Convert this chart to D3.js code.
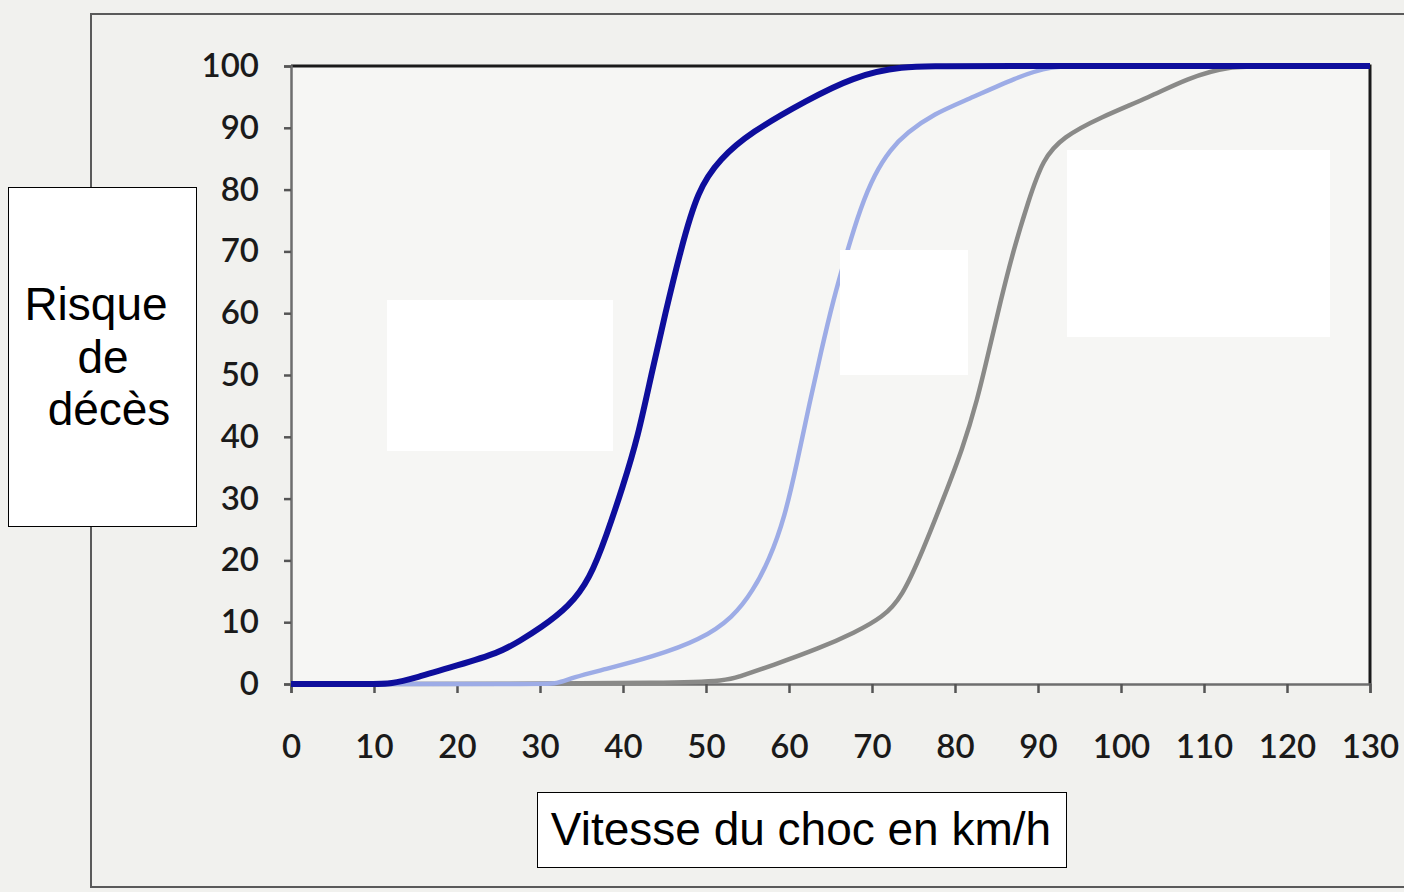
<!DOCTYPE html>
<html>
<head>
<meta charset="utf-8">
<script src="https://cdn.jsdelivr.net/npm/d3@7"></script>
<style>
  body { margin: 0; background: #f1f1ee; }
  svg { display: block; }
</style>
</head>
<body>
<div id="chart"></div>
<script>
  // speed (km/h) vs risk of death (%)
  var xTicks = [0, 10, 20, 30, 40, 50, 60, 70, 80, 90, 100, 110, 120, 130],
    yTicks = [0, 10, 20, 30, 40, 50, 60, 70, 80, 90, 100];

  var darkSpeed = [0, 10, 12, 15, 20, 25, 27.6, 30, 33.5, 36, 38, 40, 41.8, 43.4, 45.1, 46.9, 49, 51.7, 55.3, 62.2, 67.7, 73.4, 80, 130],
    darkRisk = [0, 0, 0, 1, 3, 5, 7, 9, 12.5, 17, 24, 32, 40, 50, 60, 70, 80, 85, 89.2, 94.5, 98.2, 100, 100, 100];

  var lightSpeed = [0, 30, 32, 34, 37.6, 43.6, 49.3, 53.3, 55.7, 57.6, 59.5, 61, 62.4, 63.9, 65.3, 67, 68.6, 70.3, 72.2, 74.2, 77.5, 81.4, 87.5, 91.4, 96, 130],
    lightRisk = [0, 0, 0, 1.1, 2.3, 4.4, 7.1, 10.8, 15.2, 20, 27, 36, 45, 54, 62, 70, 77, 82.5, 86.5, 89.2, 92.3, 94.5, 98.2, 100, 100, 100];

  var greySpeed = [0, 51.7, 53.7, 58, 63.7, 67.9, 71.3, 73.6, 76.1, 78.6, 80.9, 82.7, 84.1, 85.5, 87, 88.8, 90.6, 93, 97.5, 103.5, 108, 113, 118, 130],
    greyRisk = [0, 0, 1.1, 3, 5.8, 8.3, 10.8, 14, 21.5, 30, 38, 46, 54, 62, 70, 78, 85, 88.5, 91.7, 95, 98, 100, 100, 100];

  var width = 1404,
    height = 892;

  var svg = d3.select('#chart')
    .append('svg')
    .attr('width', width)
    .attr('height', height);

  // scanned page frame
  svg.append('rect')
    .attr('x', 91)
    .attr('y', 14)
    .attr('width', 1340)
    .attr('height', 873)
    .attr('fill', 'none')
    .attr('stroke', '#5a5a5a')
    .attr('stroke-width', 2);

  var x = d3.scaleLinear().domain([0, 130]).range([291, 1370]);
  var y = d3.scaleLinear().domain([0, 100]).range([684, 66]);

  // plot background
  svg.append('rect')
    .attr('x', x(0))
    .attr('y', y(100))
    .attr('width', x(130) - x(0))
    .attr('height', y(0) - y(100))
    .attr('fill', '#f6f6f4');

  // top and right border of the plot
  svg.append('path')
    .attr('d', 'M' + x(0) + ',' + y(100) + 'H' + x(130) + 'V' + y(0))
    .attr('fill', 'none')
    .attr('stroke', '#1a1a1a')
    .attr('stroke-width', 3);

  var yAxis = svg.append('g')
    .attr('transform', 'translate(' + x(0) + ',0)')
    .call(d3.axisLeft(y).tickValues(yTicks).tickSize(7).tickPadding(25));

  var xAxis = svg.append('g')
    .attr('transform', 'translate(0,' + y(0) + ')')
    .call(d3.axisBottom(x).tickValues(xTicks).tickSize(9).tickPadding(42));

  [yAxis, xAxis].forEach(function(g){
    g.select('.domain').attr('stroke', '#6e6e6e').attr('stroke-width', 2.5);
    g.selectAll('.tick line').attr('stroke', '#555').attr('stroke-width', 2.5);
    g.selectAll('.tick text')
      .attr('fill', '#1a1a1a')
      .style('font-family', 'Lato, "Open Sans", sans-serif')
      .style('font-weight', '600')
      .style('font-size', '33px');
  });

  var line = d3.line()
    .x(function(d){ return x(d[0]); })
    .y(function(d){ return y(d[1]); })
    .curve(d3.curveBasis);

  var series = [
    { s: greySpeed, r: greyRisk, color: '#8a8a88', w: 4.5 },
    { s: lightSpeed, r: lightRisk, color: '#9dace6', w: 4.5 },
    { s: darkSpeed, r: darkRisk, color: '#0e0e9c', w: 6 }
  ];

  series.forEach(function(d){
    svg.append('path')
      .datum(d3.zip(d.s, d.r))
      .attr('fill', 'none')
      .attr('stroke', d.color)
      .attr('stroke-width', d.w)
      .attr('stroke-linejoin', 'round')
      .attr('d', line);
  });

  // blank masks pasted over the original labels
  var masks = [[387, 300, 226, 151], [840, 250, 128, 125], [1067, 150, 263, 187]];
  masks.forEach(function(m){
    svg.append('rect')
      .attr('x', m[0]).attr('y', m[1])
      .attr('width', m[2]).attr('height', m[3])
      .attr('fill', '#ffffff');
  });

  // axis title boxes
  svg.append('rect')
    .attr('x', 8.5).attr('y', 187.5)
    .attr('width', 188).attr('height', 339)
    .attr('fill', '#fff').attr('stroke', '#000').attr('stroke-width', 1);

  var yTitle = [['Risque', 96, 320], ['de', 103, 373], ['décès', 109, 425]];
  yTitle.forEach(function(t){
    svg.append('text')
      .attr('x', t[1]).attr('y', t[2])
      .attr('text-anchor', 'middle')
      .style('font-family', '"Liberation Sans", Arial, sans-serif')
      .style('font-size', '46px')
      .text(t[0]);
  });

  svg.append('rect')
    .attr('x', 537.5).attr('y', 792.5)
    .attr('width', 529).attr('height', 75)
    .attr('fill', '#fff').attr('stroke', '#000').attr('stroke-width', 1);

  svg.append('text')
    .attr('x', 801).attr('y', 845)
    .attr('text-anchor', 'middle')
    .style('font-family', '"Liberation Sans", Arial, sans-serif')
    .style('font-size', '46px')
    .text('Vitesse du choc en km/h');
</script>
</body>
</html>
